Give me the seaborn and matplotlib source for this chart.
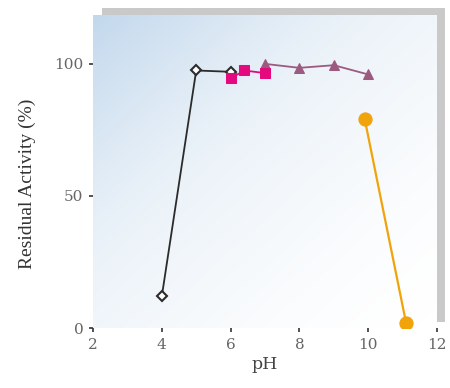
import numpy as np
import pandas as pd
import matplotlib
matplotlib.use('Agg')
import matplotlib.pyplot as plt
from matplotlib.patches import Rectangle
from matplotlib.colors import LinearSegmentedColormap
import seaborn as sns

# data
ph_a = [4.0, 5.0, 6.0]
act_a = [12.0, 97.5, 97.0]

ph_b = [6.0, 6.4, 7.0]
act_b = [94.5, 97.5, 96.5]

ph_c = [7.0, 8.0, 9.0, 10.0]
act_c = [100.0, 98.5, 99.5, 96.0]

ph_d = [9.9, 11.1]
act_d = [79.0, 2.0]

x_ticks = [2, 4, 6, 8, 10, 12]
y_ticks = [0, 50, 100]

sns.set_theme(style='white')
plt.rcParams['font.family'] = ['DejaVu Serif', 'DejaVu Sans']

fig = plt.figure(figsize=(4.5, 3.88), dpi=100)

# grey offset shadow behind the plot area
fig.patches.append(Rectangle((0.2267, 0.170), 0.7622, 0.809, transform=fig.transFigure,
                             facecolor='#c9c9c9', edgecolor='none', zorder=0))

ax = fig.add_axes([0.2067, 0.1546, 0.7644, 0.8067])
ax.set_zorder(1)

# gradient background (light blue top-left -> white bottom-right)
cmap = LinearSegmentedColormap.from_list('bg', ['#ffffff', '#e9f1f8', '#c3d8ed'])
gx, gy = np.meshgrid(np.linspace(0, 1, 200), np.linspace(0, 1, 200))
grad = ((1 - gx) * 0.5 + gy * 0.5) ** 1.6
ax.imshow(grad, extent=[0, 1, 0, 1], transform=ax.transAxes, origin='lower',
          cmap=cmap, aspect='auto', zorder=0)

sns.lineplot(x=ph_a, y=act_a, ax=ax, color='#2b2b2b', lw=1.3, marker='D', markersize=5.5,
             markerfacecolor='white', markeredgecolor='#2b2b2b', markeredgewidth=1.5, zorder=3)
sns.lineplot(x=ph_c, y=act_c, ax=ax, color='#9c5a80', lw=1.3, marker='^', markersize=7.5,
             markeredgecolor='#9c5a80', zorder=3)
sns.lineplot(x=ph_b, y=act_b, ax=ax, color='#e5097f', lw=1.3, marker='s', markersize=6.5,
             markeredgecolor='#e5097f', zorder=4)
sns.lineplot(x=ph_d, y=act_d, ax=ax, color='#f0a30a', lw=1.6, marker='o', markersize=9.5,
             markeredgecolor='#f0a30a', zorder=4)

ax.set_xlim(2, 12)
ax.set_ylim(0, 118.5)
ax.set_xticks(x_ticks)
ax.set_yticks(y_ticks)
for s in ax.spines.values():
    s.set_visible(False)
ax.tick_params(axis='both', which='both', direction='out', length=3, width=1.2,
               color='#333333', labelsize=11, labelcolor='#666666', pad=4,
               bottom=True, left=True)
ax.set_xlabel('pH', fontsize=12.5, color='#444444', labelpad=3)
ax.set_ylabel('Residual Activity (%)', fontsize=14, color='#333333', labelpad=8,
              family=['Liberation Serif', 'DejaVu Serif'])
ax.yaxis.set_label_coords(-0.165, 0.46)
ax.grid(False)

fig.savefig('out.png', dpi=100)
